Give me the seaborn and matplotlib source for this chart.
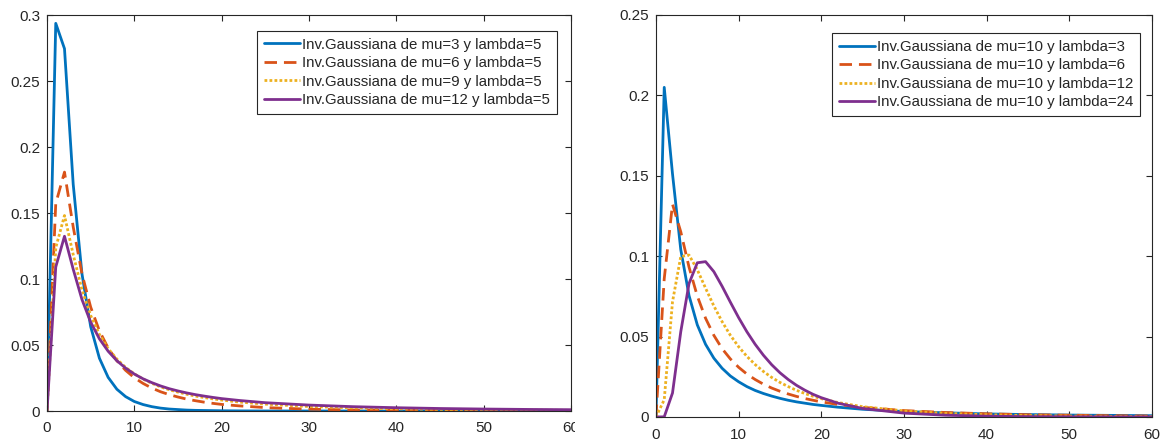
import numpy as np
import pandas as pd
import matplotlib
matplotlib.use("Agg")
import matplotlib.pyplot as plt
import seaborn as sns
from matplotlib.ticker import FuncFormatter
from matplotlib.transforms import Bbox, TransformedBbox

# ---- data ----
x = [0, 1, 2, 3, 4, 5, 6, 7, 8, 9, 10, 11, 12, 13, 14, 15, 16, 17, 18, 19, 20,
     22, 25, 30, 35, 40, 45, 50, 55, 60]

# left panel: lambda = 5, mu = 3, 6, 9, 12
left_labels = ["Inv.Gaussiana de mu=3 y lambda=5",
               "Inv.Gaussiana de mu=6 y lambda=5",
               "Inv.Gaussiana de mu=9 y lambda=5",
               "Inv.Gaussiana de mu=12 y lambda=5"]
mu3_l5 = [0, 0.2937, 0.2745, 0.1717, 0.1040, 0.0639, 0.0400, 0.0255, 0.0165, 0.0109,
          0.0072, 0.0049, 0.0033, 0.0022, 0.0015, 0.0011, 0.0007, 0.0005, 0.0004, 0.0003,
          0.0002, 0.0001, 0.00003, 0.000006, 0.000001, 0, 0, 0, 0, 0]
mu6_l5 = [0, 0.1572, 0.1810, 0.1394, 0.1040, 0.0787, 0.0607, 0.0477, 0.0381, 0.0308,
          0.0252, 0.0209, 0.0174, 0.0146, 0.0124, 0.0106, 0.0090, 0.0078, 0.0067, 0.0058,
          0.0050, 0.0039, 0.0026, 0.0014, 0.0008, 0.0005, 0.0003, 0.0002, 0.0001, 0.00007]
mu9_l5 = [0, 0.1237, 0.1481, 0.1185, 0.0919, 0.0723, 0.0580, 0.0473, 0.0393, 0.0330,
          0.0281, 0.0242, 0.0210, 0.0183, 0.0161, 0.0143, 0.0127, 0.0113, 0.0102, 0.0092,
          0.0083, 0.0068, 0.0052, 0.0034, 0.0024, 0.0017, 0.0012, 0.0009, 0.0007, 0.0005]
mu12_l5 = [0, 0.1091, 0.1324, 0.1074, 0.0845, 0.0673, 0.0547, 0.0453, 0.0381, 0.0325,
           0.0280, 0.0244, 0.0215, 0.0190, 0.0169, 0.0152, 0.0137, 0.0124, 0.0113, 0.0103,
           0.0094, 0.0080, 0.0063, 0.0045, 0.0033, 0.0025, 0.0019, 0.0015, 0.0012, 0.0010]

# right panel: mu = 10, lambda = 3, 6, 12, 24
right_labels = ["Inv.Gaussiana de mu=10 y lambda=3",
                "Inv.Gaussiana de mu=10 y lambda=6",
                "Inv.Gaussiana de mu=10 y lambda=12",
                "Inv.Gaussiana de mu=10 y lambda=24"]
mu10_l3 = [0, 0.2050, 0.1512, 0.1041, 0.0755, 0.0573, 0.0452, 0.0366, 0.0303, 0.0255,
           0.0219, 0.0189, 0.0165, 0.0146, 0.0130, 0.0116, 0.0104, 0.0094, 0.0086, 0.0078,
           0.0072, 0.0061, 0.0048, 0.0034, 0.0026, 0.0019, 0.0015, 0.0012, 0.0010, 0.0008]
mu10_l6 = [0, 0.0860, 0.1323, 0.1152, 0.0932, 0.0752, 0.0614, 0.0508, 0.0425, 0.0361,
           0.0309, 0.0267, 0.0233, 0.0204, 0.0180, 0.0160, 0.0143, 0.0128, 0.0115, 0.0104,
           0.0094, 0.0078, 0.0060, 0.0040, 0.0028, 0.0020, 0.0014, 0.0011, 0.0008, 0.0006]
mu10_l12 = [0, 0.0107, 0.0716, 0.0998, 0.1007, 0.0916, 0.0801, 0.0691, 0.0593, 0.0508,
            0.0437, 0.0377, 0.0326, 0.0283, 0.0246, 0.0215, 0.0189, 0.0166, 0.0146, 0.0129,
            0.0114, 0.0090, 0.0064, 0.0038, 0.0023, 0.0014, 0.0009, 0.0006, 0.0004, 0.0002]
mu10_l24 = [0, 0.0001, 0.0149, 0.0530, 0.0830, 0.0959, 0.0966, 0.0904, 0.0813, 0.0714,
            0.0618, 0.0530, 0.0452, 0.0384, 0.0325, 0.0275, 0.0233, 0.0197, 0.0167, 0.0141,
            0.0120, 0.0086, 0.0053, 0.0024, 0.0011, 0.0005, 0.0002, 0.0001, 0.00006, 0.00003]

left_series = [mu3_l5, mu6_l5, mu9_l5, mu12_l5]
right_series = [mu10_l3, mu10_l6, mu10_l12, mu10_l24]

colors = ["#0072BD", "#D95319", "#EDB120", "#7E2F8E"]
styles = ["-", (0, (4.5, 2.5)), (0, (1.0, 0.8)), "-"]

# ---- style ----
sns.set_theme(style="white")
plt.rcParams["font.family"] = ["Liberation Sans", "DejaVu Sans"]
plt.rcParams["axes.edgecolor"] = "#262626"
plt.rcParams["axes.linewidth"] = 0.8

fig = plt.figure(figsize=(11.61, 4.42), dpi=100)
ax1 = fig.add_axes([0.0405, 0.0701, 0.4513, 0.8959])
ax2 = fig.add_axes([0.5650, 0.0566, 0.4272, 0.9095])

fmt = FuncFormatter(lambda v, p: "%g" % round(v, 4))


def draw(ax, series, labels, ymax, ystep, anchor, xpad):
    for ys, lab, c, ls in zip(series, labels, colors, styles):
        df = pd.DataFrame({"x": x, "y": ys})
        sns.lineplot(data=df, x="x", y="y", ax=ax, color=c, linewidth=2.0,
                     linestyle=ls, label=lab)
    ax.set_xlim(0, 60)
    ax.set_ylim(0, ymax)
    ax.set_xticks(np.arange(0, 61, 10))
    ax.set_yticks(np.arange(0, ymax + 1e-9, ystep))
    ax.xaxis.set_major_formatter(fmt)
    ax.yaxis.set_major_formatter(fmt)
    ax.set_xlabel("")
    ax.set_ylabel("")
    ax.tick_params(direction="in", length=4, width=0.8, color="#262626",
                   labelcolor="#262626", labelsize=11, top=True, right=True,
                   bottom=True, left=True)
    ax.tick_params(axis="x", pad=xpad)
    ax.tick_params(axis="y", pad=5)
    for s in ax.spines.values():
        s.set_visible(True)
        s.set_color("#262626")
        s.set_linewidth(0.8)
    leg = ax.legend(loc="upper right", bbox_to_anchor=anchor, borderaxespad=0,
                    fontsize=10.8, handlelength=2.4, handletextpad=0.15,
                    borderpad=0.45, labelspacing=0.3, frameon=True, fancybox=False,
                    framealpha=1, edgecolor="#262626")
    leg.get_frame().set_linewidth(0.8)


draw(ax1, left_series, left_labels, 0.3, 0.05, (0.973, 0.96), 7)
draw(ax2, right_series, right_labels, 0.25, 0.05, (0.976, 0.955), 8)

# the left panel's last x tick label is cut at the panel edge in the reference
clip = TransformedBbox(Bbox.from_extents(0, 0, 575 / 1161, 1), fig.transFigure)
for t in ax1.xaxis.get_major_ticks():
    t.label1.set_clip_on(True)
    t.label1.set_clip_box(clip)

fig.savefig("out.png", dpi=100, facecolor="white")
